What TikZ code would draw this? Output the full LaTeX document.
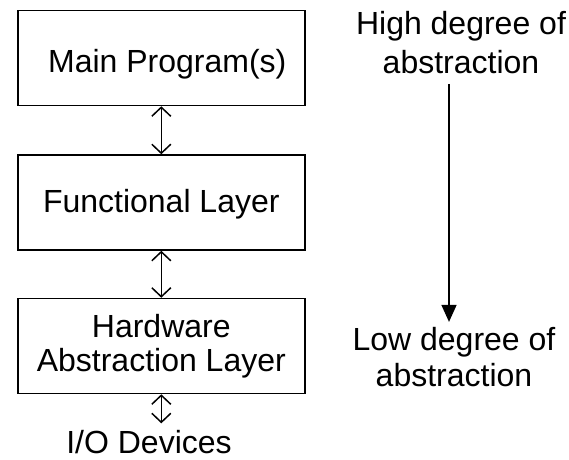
\documentclass[tikz,border=0pt]{standalone}
\usepackage{fontspec}
\setmainfont{Liberation Sans}
\usetikzlibrary{arrows.meta}
\begin{document}
\begin{tikzpicture}[x=1pt,y=-1pt,
  layerbox/.style={draw, line width=1.5pt, minimum width=287pt, minimum height=95pt,
    inner sep=0pt, font=\fontsize{32}{34}\selectfont},
  plaintext/.style={inner sep=0pt, align=center, font=\fontsize{32}{39}\selectfont},
  link/.style={line width=1.5pt,
    {Straight Barb[length=9pt,width=19pt]}-{Straight Barb[length=9pt,width=19pt]}},
  trend/.style={line width=1.5pt, -{Triangle[length=17pt,width=15pt]}}]
  \useasboundingbox (0,0) rectangle (569,459);

  % layer stack
  \node[layerbox, text height=34pt, text depth=6pt] (main) at (161.3,58)
    {\hspace*{12pt}Main Program(s)};
  \node[layerbox, text height=22pt, text depth=2pt] (func) at (161.3,202.5)
    {Functional Layer};
  \node[layerbox, align=center] (hal) at (161.3,346)
    {Hardware\\Abstraction Layer};
  \node[plaintext, anchor=base] (io) at (149,453.3) {I/O Devices};

  \draw[link] (main.south) -- (func.north);
  \draw[link] (func.south) -- (hal.north);
  \draw[link, shorten >=6.6pt] (hal.south) -- (hal.south |- io.north);

  % abstraction scale
  \node[plaintext, anchor=north] (high) at (461,11) {High degree of\\abstraction};
  \node[plaintext, anchor=north, font=\fontsize{32}{36}\selectfont] (low) at (454,327.4)
    {Low degree of\\abstraction};
  \coordinate (axis) at (449,0);
  \draw[trend, shorten <=10pt, shorten >=5.5pt] (high.south -| axis) -- (low.north -| axis);
\end{tikzpicture}
\end{document}
